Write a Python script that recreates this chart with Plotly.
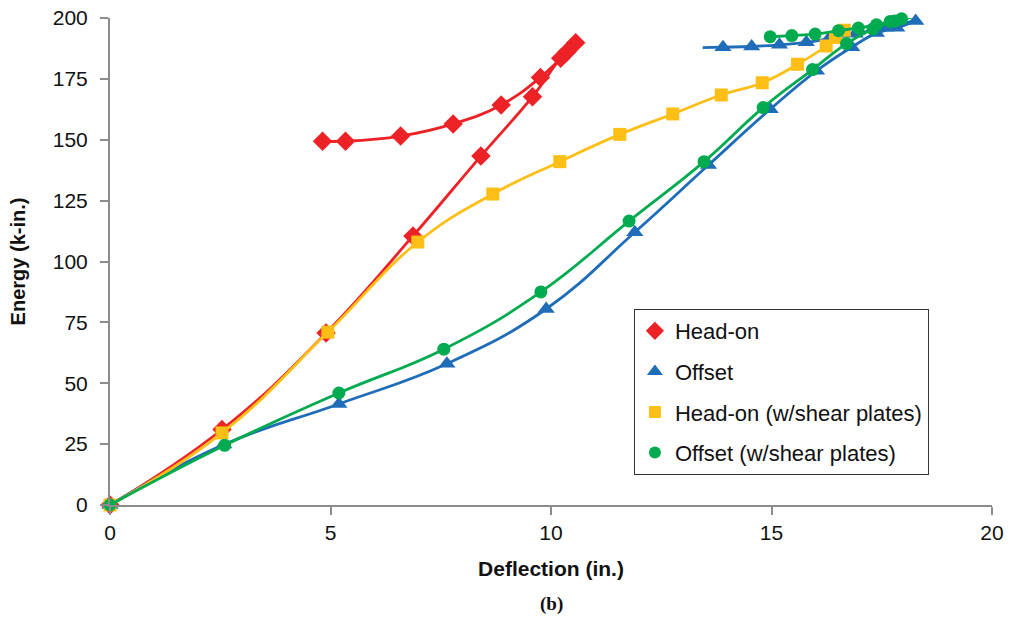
import plotly.graph_objects as go

# ---- data ----
headon_x = [0, 2.54, 4.90, 6.87, 8.41, 9.58, 10.22, 10.56, 10.36, 9.76, 8.87, 7.78, 6.59, 5.34, 4.82]
headon_y = [0, 31.0, 70.6, 110.5, 143.3, 167.7, 183.5, 189.8, 186.0, 175.6, 164.3, 156.5, 151.5, 149.4, 149.4]

offset_x = [0, 2.58, 5.19, 7.64, 9.89, 11.90, 13.57, 14.97, 16.02, 16.82, 17.38, 17.84, 18.27,
            17.60, 16.90, 16.30, 15.79, 15.18, 14.55, 13.90, 13.44]
offset_y = [0, 24.8, 41.5, 58.0, 80.5, 112.0, 139.6, 162.5, 178.3, 188.0, 193.8, 196.0, 198.8,
            196.0, 193.5, 191.5, 190.0, 189.0, 188.3, 188.0, 187.8]

headon_sp_x = [0, 2.54, 4.94, 6.98, 8.68, 10.20, 11.56, 12.76, 13.86, 14.79, 15.59, 16.24, 16.45, 16.65]
headon_sp_y = [0, 29.6, 71.0, 108.0, 127.7, 141.0, 152.2, 160.6, 168.4, 173.4, 181.0, 188.5, 192.0, 195.0]

offset_sp_x = [0, 2.60, 5.19, 7.57, 9.77, 11.77, 13.47, 14.81, 15.93, 16.70, 17.30, 17.80, 18.18,
               17.95, 17.69, 17.38, 16.97, 16.52, 15.99, 15.46, 14.97]
offset_sp_y = [0, 24.5, 46.0, 64.0, 87.5, 116.6, 141.0, 163.2, 178.8, 189.5, 195.5, 198.8, 200.3,
               199.7, 198.6, 197.2, 195.9, 194.8, 193.4, 192.8, 192.3]

names = ["Head-on", "Offset", "Head-on (w/shear plates)", "Offset (w/shear plates)"]
colors = ["#EC2227", "#1F6DB8", "#FDBF16", "#00AA4F"]
symbols = ["diamond", "triangle-up", "square", "circle"]
msizes = [15, 15, 13, 13]

series = [(headon_x, headon_y), (offset_x, offset_y), (headon_sp_x, headon_sp_y), (offset_sp_x, offset_sp_y)]

FONT = "Liberation Sans, Arial, sans-serif"

fig = go.Figure()
for i, (xs, ys) in enumerate(series):
    size = [msizes[i]] * len(xs)
    if i == 1:
        size[-1] = 0  # line end without marker
    fig.add_trace(go.Scatter(
        x=xs, y=ys, mode="lines+markers", showlegend=False,
        line=dict(color=colors[i], width=2.8, shape="spline", smoothing=1.25),
        marker=dict(symbol=symbols[i], color=colors[i], size=size, opacity=1, line=dict(width=0)),
        cliponaxis=False,
    ))

for i in range(4):
    fig.add_trace(go.Scatter(
        x=[None], y=[None], mode="markers", name=names[i], legendgroup=str(i),
        marker=dict(symbol=symbols[i], color=colors[i], size=msizes[i] - 1, opacity=1),
    ))

axis_common = dict(
    showline=True, linecolor="#8c8c8c", linewidth=2,
    ticks="outside", tickcolor="#8c8c8c", tickwidth=2, ticklen=8,
    showgrid=False, zeroline=False,
    tickfont=dict(family=FONT, size=21, color="#111"),
)

fig.update_layout(
    width=1011, height=620,
    margin=dict(l=110, r=19, t=18, b=115, autoexpand=False),
    paper_bgcolor="white", plot_bgcolor="white",
    xaxis=dict(range=[0, 20], dtick=5, tick0=0, **axis_common,
               title=dict(text="<b>Deflection (in.)</b>", standoff=18,
                          font=dict(family=FONT, size=21, color="#111"))),
    yaxis=dict(range=[0, 200], dtick=25, tick0=0, **axis_common, ticklabelstandoff=8,
               title=dict(text="<b>Energy (k-in.)</b>", standoff=22,
                          font=dict(family=FONT, size=20, color="#111"))),
    legend=dict(x=0.594, y=0.4025, xanchor="left", yanchor="top",
                bordercolor="#333", borderwidth=1, bgcolor="white",
                font=dict(family=FONT, size=22, color="#111"),
                traceorder="grouped", tracegroupgap=9, itemwidth=30),
    annotations=[dict(text="<b>(b)</b>", xref="paper", yref="paper", x=0.5, y=-0.203,
                      xanchor="center", yanchor="middle", showarrow=False,
                      font=dict(family="Liberation Serif, Times New Roman, serif", size=19, color="#111"))],
)

fig.write_html("out.html", config={"displayModeBar": False},
               post_script="document.body.style.margin='0';")
